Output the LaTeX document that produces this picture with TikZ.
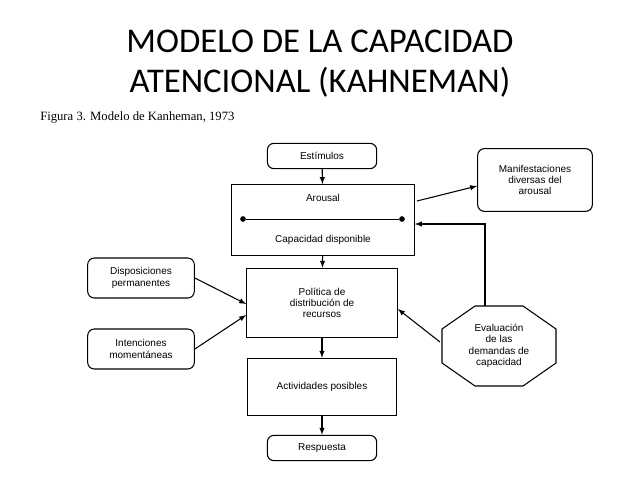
\documentclass[tikz,border=0pt]{standalone}
\usepackage{fontspec}
\setmainfont{Liberation Sans}
\newfontfamily\titlefont{Carlito}
\newfontfamily\capfont{Liberation Serif}
\usetikzlibrary{shapes.geometric}
\begin{document}
\begin{tikzpicture}[x=0.75pt,y=-0.75pt,
    rbox/.style={draw,thick,rounded corners=5pt,align=center,font=\fontsize{7.5}{8.5}\selectfont},
    sbox/.style={draw,thick,align=center,font=\fontsize{7.5}{8.5}\selectfont},
    arr/.style={draw,thick,->,>=latex}]
    \useasboundingbox (0,0) rectangle (638,479);
    \node[font=\titlefont\fontsize{26}{30}\selectfont,align=center] (title) at (320,64) {MODELO DE LA CAPACIDAD\\ATENCIONAL (KAHNEMAN)};
    \node[font=\capfont\fontsize{9.5}{10}\selectfont,anchor=west,inner sep=0pt] (fig) at (40,117) {F\textsc{igura} 3. M\textsc{odelo de} K\textsc{anheman}, 1973};

    \node[rbox,minimum width=82pt,minimum height=19pt] (est) at (322,156) {Estímulos};
    \node[sbox,minimum width=137pt,minimum height=53pt] (aro) at (323,220) {};
    \node[font=\fontsize{7.5}{8.5}\selectfont] (arotxt) at (323,198) {Arousal};
    \node[font=\fontsize{7.5}{8.5}\selectfont] (captxt) at (323,240) {Capacidad disponible};
    \node[circle,fill,inner sep=1.5pt] (d1) at (243,219) {};
    \node[circle,fill,inner sep=1.5pt] (d2) at (402,219) {};
    \draw[thin] (d1) -- (d2);
    \node[rbox,minimum width=86pt,minimum height=47pt] (man) at (535,180) {Manifestaciones\\diversas del\\arousal};
    \node[rbox,minimum width=80pt,minimum height=30pt] (dis) at (141,278) {Disposiciones\\permanentes};
    \node[rbox,minimum width=80pt,minimum height=30pt] (int) at (141,349) {Intenciones\\momentáneas};
    \node[sbox,minimum width=113pt,minimum height=52pt] (pol) at (322,303) {Política de\\distribución de\\recursos};
    \node[sbox,minimum width=112pt,minimum height=43pt] (act) at (322,387) {Actividades posibles};
    \node[rbox,minimum width=82pt,minimum height=19pt] (res) at (322,448) {Respuesta};
    \node[align=center,font=\fontsize{7.5}{8.5}\selectfont] (eva) at (499,346) {Evaluación\\de las\\demandas de\\capacidad};
    % octagon around the evaluation text
    \draw[thick] (475,306) -- (523,306) -- (556,329) -- (556,363) -- (523,386) -- (475,386) -- (442,363) -- (442,329) -- cycle;
    \coordinate (evatop) at (485,306);
    \coordinate (evaleft) at (440,342);
    \coordinate (fb) at (485,224);

    \path[arr] (est) -- (aro);
    \path[arr] (aro) -- (pol);
    \path[arr] (pol) -- (act);
    \path[arr] (act) -- (res);
    \path[arr] (417,201) -- (man.west |- 0,186);
    \path[arr] (dis.east) -- (pol.west |- 0,304);
    \path[arr] (int.east) -- (pol.west |- 0,315);
    \path[arr] (evaleft) -- (pol.east |- 0,309);
    \path[arr] (evatop) -- (fb) -- (aro.east |- fb);
\end{tikzpicture}
\end{document}
